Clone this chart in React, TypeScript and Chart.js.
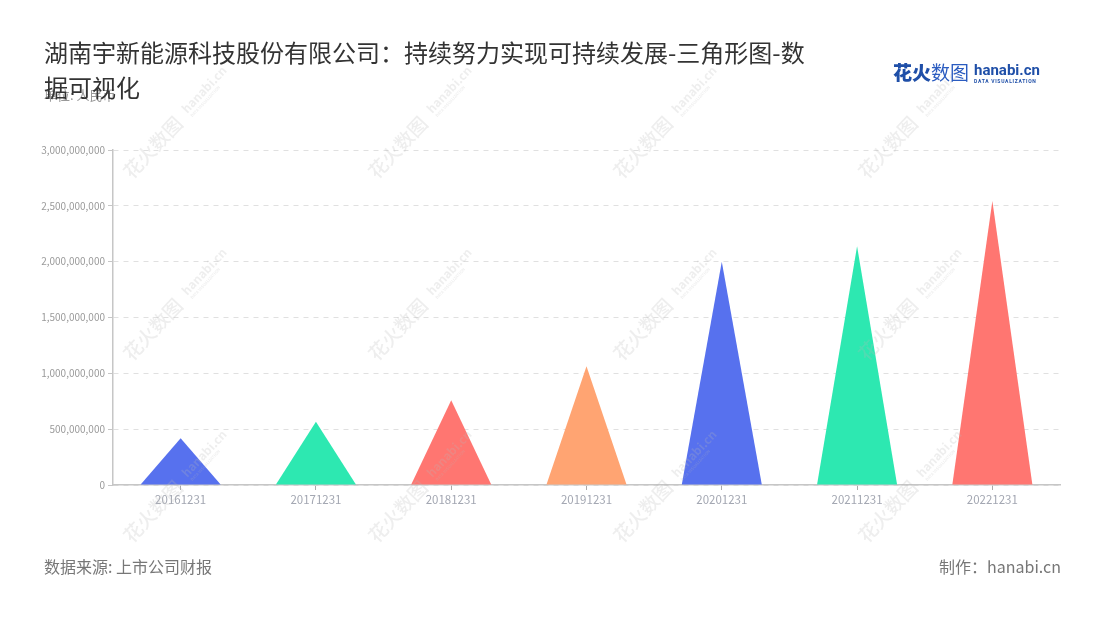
import React, { useEffect, useRef } from "react";
import { Chart, registerables } from "chart.js";

Chart.register(...registerables);

const categories = ["20161231", "20171231", "20181231", "20191231", "20201231", "20211231", "20221231"];
const values = [418000000, 567000000, 758000000, 1063000000, 2000000000, 2138000000, 2543000000];
const colors = ["#5771EE", "#2DE8B1", "#FF7671", "#FFA472", "#5771EE", "#2DE8B1", "#FF7671"];
const yMax = 3000000000;
const yStep = 500000000;

const FONT = "'Noto Sans CJK SC', 'Noto Sans', sans-serif";

const trianglePlugin = {
  id: "triangles",
  beforeDatasetDraw(chart: any, args: any) {
    const ctx = chart.ctx;
    ctx.save();
    args.meta.data.forEach((el: any) => {
      const { x, y, base, width } = el.getProps(["x", "y", "base", "width"], true);
      ctx.beginPath();
      ctx.moveTo(x - width / 2, base);
      ctx.lineTo(x, y);
      ctx.lineTo(x + width / 2, base);
      ctx.closePath();
      ctx.fillStyle = el.options.backgroundColor;
      ctx.fill();
    });
    ctx.restore();
    return false;
  },
};

const watermarkPlugin = {
  id: "watermark",
  afterDraw(chart: any) {
    const ctx = chart.ctx;
    ctx.save();
    for (let i = 0; i < 4; i++) {
      for (let j = 0; j < 3; j++) {
        const x0 = 132 + 245 * i;
        const y0 = 180 + 182 * j;
        ctx.save();
        ctx.translate(x0, y0);
        ctx.rotate(-Math.PI / 4 - 0.03);
        ctx.fillStyle = "rgba(185,185,185,0.24)";
        ctx.textBaseline = "alphabetic";
        ctx.font = `500 19px ${FONT}`;
        ctx.fillText("花火数图", 0, 0);
        ctx.font = `bold 12px ${FONT}`;
        ctx.fillText("hanabi.cn", 86, -5);
        ctx.font = `bold 4px ${FONT}`;
        ctx.fillText("DATA VISUALIZATION", 87, 1);
        ctx.restore();
      }
    }
    ctx.restore();
  },
};

function fmt(v: number) {
  return v.toLocaleString("en-US");
}

export default function App() {
  const ref = useRef<HTMLCanvasElement>(null);
  useEffect(() => {
    if (!ref.current) return;
    Chart.defaults.font.family = FONT;
    const chart = new Chart(ref.current, {
      type: "bar",
      data: {
        labels: categories,
        datasets: [
          {
            data: values,
            backgroundColor: colors,
            barThickness: 80,
          },
        ],
      },
      options: {
        animation: false,
        responsive: false,
        devicePixelRatio: 1,
        layout: { padding: { left: 0, right: 40, top: 150, bottom: 0 } },
        plugins: {
          legend: { display: false },
          title: { display: false },
          tooltip: { enabled: false },
        },
        scales: {
          x: {
            z: 1,
            offset: true,
            afterFit: (s: any) => {
              s.height = 135;
            },
            grid: {
              display: true,
              drawOnChartArea: false,
              drawTicks: true,
              tickLength: 5,
              offset: false,
              tickColor: "#aaaaaa",
              tickWidth: 1,
            },
            border: { display: true, color: "#c6c6c6", width: 1.5 },
            ticks: {
              color: "#a3a7b2",
              font: { size: 11.5, family: FONT },
              padding: 3,
              maxRotation: 0,
            },
          },
          y: {
            min: 0,
            max: yMax,
            afterFit: (s: any) => {
              s.width = 113;
            },
            grid: {
              color: "#e0e0e0",
              drawTicks: true,
              tickLength: 5,
              tickColor: "#c6c6c6",
              tickBorderDash: [],
            },
            border: { display: true, color: "#c6c6c6", width: 1.5, dash: [5, 5] },
            ticks: {
              stepSize: yStep,
              color: "#9a9a9a",
              font: { size: 10, family: FONT },
              padding: 3,
              callback: (v: any) => fmt(Number(v)),
            },
          },
        },
      },
      plugins: [trianglePlugin, watermarkPlugin],
    });
    return () => chart.destroy();
  }, []);

  return (
    <div style={{ position: "absolute", left: 0, top: 0, width: 1100, height: 620, background: "#fff", overflow: "hidden", fontFamily: FONT }}>
      <canvas ref={ref} width={1100} height={620} style={{ position: "absolute", left: 0, top: 0, width: 1100, height: 620 }} />
      <div style={{ position: "absolute", left: 44, top: 86, fontSize: 13, lineHeight: "18px", color: "#999", whiteSpace: "nowrap" }}>单位: 人民币</div>
      <div style={{ position: "absolute", left: 44, top: 34, fontSize: 24, lineHeight: "35px", color: "#333", whiteSpace: "nowrap" }}>
        湖南宇新能源科技股份有限公司：持续努力实现可持续发展-三角形图-数
        <br />
        据可视化
      </div>
      <div style={{ position: "absolute", left: 893, top: 59, whiteSpace: "nowrap", display: "flex", alignItems: "center" }}>
        <span style={{ fontSize: 19, lineHeight: "26px", color: "#1f4fa8", fontWeight: 900 }}>花火</span>
        <span style={{ fontSize: 19, lineHeight: "26px", color: "#2b5cc0", fontWeight: 400 }}>数图</span>
        <span style={{ display: "inline-flex", flexDirection: "column", marginLeft: 5, marginTop: 2, alignItems: "flex-start" }}>
          <span style={{ fontSize: 15, lineHeight: "15px", color: "#1f4fa8", fontWeight: 700, fontFamily: "Roboto, 'Noto Sans', sans-serif" }}>hanabi.cn</span>
          <span style={{ fontSize: 5, lineHeight: "6px", color: "#1f4fa8", fontWeight: 700, letterSpacing: 0.7, fontFamily: "Roboto, sans-serif" }}>DATA VISUALIZATION</span>
        </span>
      </div>
      <div style={{ position: "absolute", left: 44, top: 556, fontSize: 16, lineHeight: "20px", color: "#777", whiteSpace: "nowrap" }}>数据来源: 上市公司财报</div>
      <div style={{ position: "absolute", right: 39, top: 556, fontSize: 16, lineHeight: "20px", color: "#777", whiteSpace: "nowrap" }}>制作：hanabi.cn</div>
    </div>
  );
}
